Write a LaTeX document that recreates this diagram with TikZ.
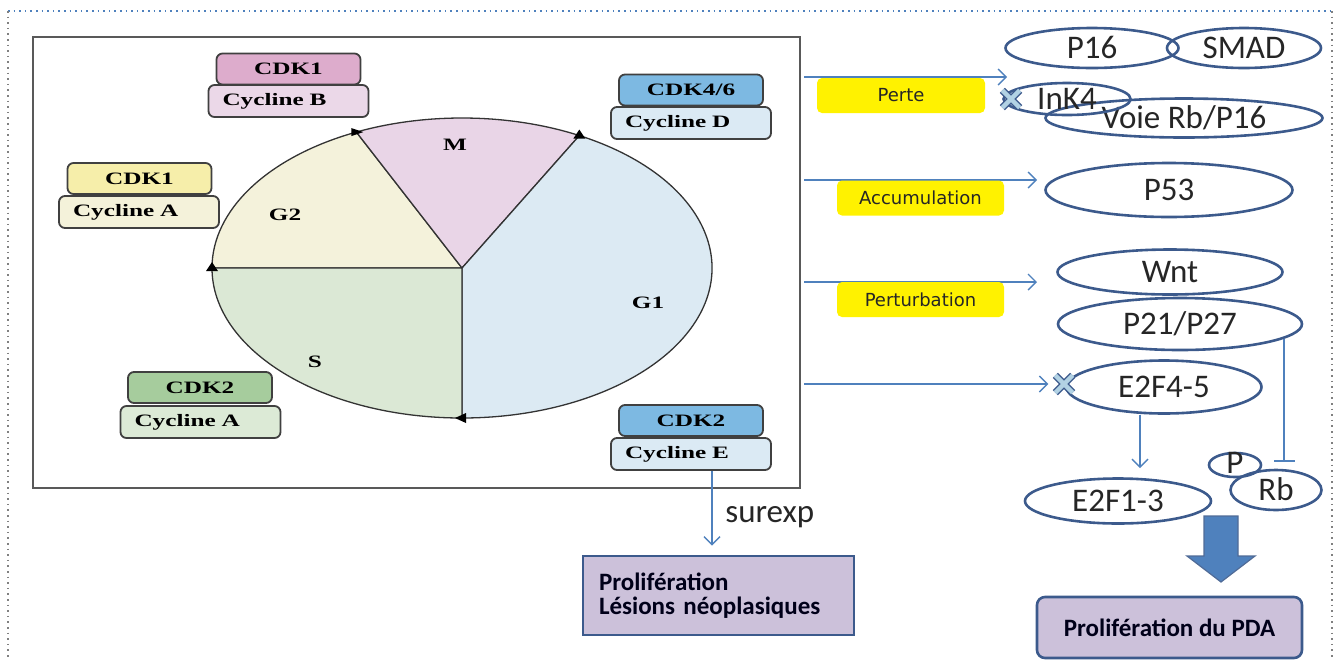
\documentclass[tikz,border=0pt]{standalone}
\usepackage{xcolor}
\usepackage{fontspec}
\setmainfont{Carlito}
\newfontfamily\cdkfont[FakeStretch=1.45]{Liberation Serif}
\newfontfamily\verdfont{DejaVu Sans}
\usepackage{tikz}
\usetikzlibrary{arrows.meta, positioning, calc, shapes.geometric, shapes.misc}

\definecolor{bleuligne}{RGB}{79,129,189}
\definecolor{bleufonce}{RGB}{60,90,140}
\definecolor{roseF}{RGB}{221,172,204}
\definecolor{roseC}{RGB}{235,216,232}
\definecolor{jauneF}{RGB}{246,238,170}
\definecolor{jauneC}{RGB}{244,242,218}
\definecolor{bleuF}{RGB}{125,185,226}
\definecolor{bleuC}{RGB}{219,234,244}
\definecolor{vertF}{RGB}{166,204,157}
\definecolor{vertC}{RGB}{220,234,214}
\definecolor{phaseM}{RGB}{233,213,231}
\definecolor{phaseGdeux}{RGB}{244,242,219}
\definecolor{phaseGun}{RGB}{220,234,243}
\definecolor{phaseS}{RGB}{219,232,213}
\definecolor{lavande}{RGB}{204,193,218}
\definecolor{croixclair}{RGB}{178,210,228}

\begin{document}
\begin{tikzpicture}[x=0.5pt, y=-0.5pt,
    cdkhaut/.style={draw=black!75, line width=0.9pt, rounded corners=3pt, minimum width=72pt, minimum height=15.5pt, inner sep=0pt, font=\cdkfont\bfseries\fontsize{8.7}{10}\selectfont},
    cyclbas/.style={draw=black!75, line width=0.9pt, rounded corners=3pt, text width=66pt, inner xsep=7pt, inner ysep=0pt, minimum height=16pt, align=left, font=\cdkfont\bfseries\fontsize{8.7}{10}\selectfont},
    phase/.style={draw=black!80, line width=0.65pt},
    phasetxt/.style={font=\cdkfont\bfseries\fontsize{8.7}{10}\selectfont},
    ovale/.style={ellipse, draw=bleufonce, line width=1.3pt, inner sep=0pt, text height=10.2pt, text depth=0pt, text=black!85, font=\fontsize{16.5}{19}\selectfont},
    jaune/.style={fill=yellow, rounded corners=2.5pt, minimum width=84pt, minimum height=17.5pt, inner sep=0pt, text=black!85, font=\verdfont\fontsize{9}{11}\selectfont},
    fleche/.style={draw=bleuligne, line width=0.7pt, -{Straight Barb[length=4pt,width=8pt]}},
    croix/.style={cross out, draw=bleufonce, line width=0.7pt, double=croixclair, double distance=2.2pt, minimum size=8pt, inner sep=0pt},
    resultat/.style={draw=bleufonce, line width=1.3pt, fill=lavande, text=black!90!blue, font=\bfseries\fontsize{12.5}{12}\selectfont}]

    \useasboundingbox (0,0) rectangle (1335,660);
    \draw[bleuligne, dotted, line width=0.8pt] (8,11) -- (1332,11);
    \draw[gray, dotted, line width=0.8pt] (8,11) -- (8,660);
    \draw[gray, dotted, line width=0.8pt] (1332,11) -- (1332,660);

    \node[draw=black!65, line width=1pt, minimum width=383.5pt, minimum height=225.5pt, inner sep=0pt] (cadre) at (416.5,262.5) {};

    \coordinate (c) at (462,268);
    \filldraw[phase, fill=phaseGdeux] (c) -- ++(180:125pt and 75pt) arc[start angle=180, end angle=115, x radius=125pt, y radius=75pt] -- cycle;
    \filldraw[phase, fill=phaseM] (c) -- ++(115:125pt and 75pt) arc[start angle=115, end angle=62, x radius=125pt, y radius=75pt] -- cycle;
    \filldraw[phase, fill=phaseGun] (c) -- ++(62:125pt and 75pt) arc[start angle=62, end angle=-90, x radius=125pt, y radius=75pt] -- cycle;
    \filldraw[phase, fill=phaseS] (c) -- ++(180:125pt and 75pt) arc[start angle=180, end angle=270, x radius=125pt, y radius=75pt] -- cycle;

    \coordinate (pM) at ($(c)+(115:125pt and 75pt)$);
    \coordinate (pG) at ($(c)+(62:125pt and 75pt)$);
    \coordinate (pL) at ($(c)+(180:125pt and 75pt)$);
    \coordinate (pB) at ($(c)+(270:125pt and 75pt)$);
    \fill[black] (pM) ++(-5,-4) -- ++(12,4) -- ++(-12,4) -- cycle;
    \fill[black] (pG) ++(-6,3) -- ++(6,-9) -- ++(6,9) -- cycle;
    \fill[black] (pL) ++(-6,3) -- ++(6,-9) -- ++(6,9) -- cycle;
    \fill[black] (pB) ++(4,-5) -- ++(-11,5) -- ++(11,5) -- cycle;

    \node[phasetxt] (txtM) at (455,145) {M};
    \node[phasetxt] (txtG2) at (285,215) {G2};
    \node[phasetxt] (txtG1) at (648,303) {G1};
    \node[phasetxt] (txtS) at (315,362) {S};

    \node[cdkhaut, fill=roseF] (cdkB) at (288.5,69) {CDK1};
    \node[cyclbas, fill=roseC] (cycB) at (288.5,101) {Cycline B};
    \node[cdkhaut, fill=jauneF] (cdkA) at (139.5,178.5) {CDK1};
    \node[cyclbas, fill=jauneC] (cycA) at (139,212) {Cycline A};
    \node[cdkhaut, fill=bleuF] (cdkD) at (691,90) {CDK4/6};
    \node[cyclbas, fill=bleuC] (cycD) at (691,123) {Cycline D};
    \node[cdkhaut, fill=vertF] (cdkAA) at (200,387.5) {CDK2};
    \node[cyclbas, fill=vertC] (cycAA) at (200.5,422) {Cycline A};
    \node[cdkhaut, fill=bleuF] (cdkE) at (691,420.5) {CDK2};
    \node[cyclbas, fill=bleuC] (cycE) at (691,454) {Cycline E};

    \coordinate (d1) at (804,77);
    \coordinate (f1) at (1007,77);
    \coordinate (d2) at (804,180);
    \coordinate (f2) at (1037,180);
    \coordinate (d3) at (804,282);
    \coordinate (f3) at (1037,282);
    \coordinate (d4) at (804,384);

    \draw[fleche] (d1) -- (f1);
    \draw[fleche] (d2) -- (f2);
    \draw[fleche] (d3) -- (f3);

    \node[jaune] (perte) at (901,95.5) {Perte};
    \node[jaune, minimum width=83.5pt] (accu) at (920.5,198) {Accumulation};
    \node[jaune, minimum width=83.5pt] (pertu) at (920.5,299.5) {Perturbation};

    \node[ovale, minimum width=86.5pt, minimum height=20pt] (p16) at (1092,48) {P16};
    \node[ovale, minimum width=77pt, minimum height=20pt] (smad) at (1244,48) {SMAD};
    \node[ovale, minimum width=138.5pt, minimum height=19.5pt] (voie) at (1184,118) {Voie Rb/P16};
    \node[ovale, minimum width=63.5pt, minimum height=16pt] (ink4) at (1067,99) {InK4};
    \node[ovale, minimum width=123.5pt, minimum height=27pt] (p53) at (1169,190) {P53};
    \node[ovale, minimum width=112.5pt, minimum height=22.5pt] (wnt) at (1170,272) {Wnt};
    \node[ovale, minimum width=122pt, minimum height=26pt] (p21) at (1180,324) {P21/P27};
    \node[ovale, minimum width=97.5pt, minimum height=26.5pt] (e2f45) at (1164,387) {E2F4-5};
    \node[ovale, minimum width=93pt, minimum height=22.5pt] (e2f13) at (1118,501) {E2F1-3};
    \node[ovale, minimum width=26pt, minimum height=12pt, text height=8.5pt] (phos) at (1235,465) {P};
    \node[ovale, minimum width=45.5pt, minimum height=20pt] (rb) at (1276,490) {Rb};

    \node[croix] (xink) at (1011,99) {};
    \node[croix] (xe2f) at (1064,384) {};

    \draw[fleche, shorten >=3.5pt] (d4) -- (xe2f.west);
    \draw[fleche, shorten >=4.5pt] ([xshift=-12pt]e2f45.south) -- ([xshift=-12pt]e2f45.south |- e2f13.north);
    \draw[draw=bleuligne, line width=0.7pt, -{Bar[width=10.5pt]}, shorten >=3.5pt] (p21.-8) -- (p21.-8 |- rb.north);

    \node[resultat, rounded corners=4pt, minimum width=132.5pt, minimum height=30.5pt, inner sep=0pt] (pda) at (1169.5,627.5) {Prolifération du PDA};
    \node[resultat, text width=119.5pt, inner xsep=8pt, minimum height=39.5pt, align=left] (prolif) at (718.5,595.5) {Prolifération\\Lésions néoplasiques};

    \filldraw[fill=bleuligne, draw=bleufonce!90, line width=0.6pt] (1204,516) -- (1238,516) -- (1238,556) -- (1255,556) -- (1221,582) -- (1187,556) -- (1204,556) -- cycle;

    \draw[fleche, shorten >=4.5pt] ([xshift=10.5pt]cycE.south) -- ([xshift=10.5pt]cycE.south |- prolif.north) node[pos=.55, right=3pt, text=black!85, font=\fontsize{16.5}{19}\selectfont] (surexp) {surexp};
\end{tikzpicture}
\end{document}
